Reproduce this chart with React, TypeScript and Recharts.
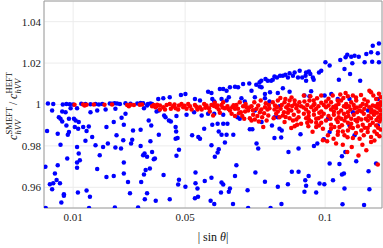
import React from 'react';
import { ScatterChart, Scatter, XAxis, YAxis, CartesianGrid, ReferenceArea } from 'recharts';

const xTicks = [0.01, 0.05, 0.1];
const yTicks = [0.96, 0.98, 1, 1.02, 1.04];
const xDomain: [number, number] = [-0.0004, 0.1203];
const yDomain: [number, number] = [0.95, 1.05];

const blueLeft: [number, number][] = [
  [0.0010,1.0005],[0.0029,1.0002],[0.0063,1.0000],[0.0076,1.0003],[0.0088,1.0001],[0.0100,1.0000],[0.0129,1.0004],[0.0144,1.0002],[0.0162,1.0001],[0.0180,1.0003],[0.0192,1.0000],[0.0204,1.0002],[0.0231,1.0005],[0.0239,1.0004],[0.0248,1.0006],[0.0257,1.0005],[0.0267,1.0003],[0.0287,1.0006],[0.0305,1.0004],[0.0329,1.0005],[0.0341,1.0007],[0.0350,1.0006],[0.0367,1.0003],[0.0376,1.0005],
  [0.0025,0.9971],[0.0061,0.9966],[0.0073,0.9963],[0.0091,0.9982],[0.0114,0.9982],[0.0162,0.9963],[0.0186,0.9971],[0.0216,0.9976],[0.0251,0.9979],[0.0287,0.9955],[0.0353,0.9982],[0.0364,0.9995],[0.0382,1.0003],
  [0.0049,0.9939],[0.0055,0.9931],[0.0061,0.9918],[0.0085,0.9931],[0.0103,0.9931],[0.0109,0.9923],[0.0120,0.9915],[0.0273,0.9936],[0.0370,0.9923],
  [0.0007,0.9872],[0.0045,0.9859],[0.0076,0.9899],[0.0085,0.9867],[0.0081,0.9854],[0.0106,0.9891],[0.0118,0.9883],[0.0136,0.9891],[0.0156,0.9894],[0.0148,0.9872],[0.0219,0.9891],[0.0245,0.9915],[0.0281,0.9902],[0.0314,0.9875],[0.0341,0.9878],[0.0379,0.9899],[0.0406,0.9854],
  [0.0055,0.9806],[0.0114,0.9795],[0.0144,0.9825],[0.0168,0.9843],[0.0180,0.9803],[0.0207,0.9795],[0.0224,0.9811],[0.0255,0.9851],[0.0251,0.9792],[0.0271,0.9787],[0.0279,0.9827],[0.0311,0.9830],[0.0307,0.9811],[0.0341,0.9800],[0.0376,0.9822],
  [0.0079,0.9739],[0.0120,0.9763],[0.0124,0.9731],[0.0114,0.9720],[0.0195,0.9755],[0.0281,0.9720],[0.0350,0.9755],[0.0355,0.9763],[0.0382,0.9771],[0.0364,0.9747],[0.0388,0.9736],[0.0001,0.9699],[0.0045,0.9707],[0.0114,0.9694],[0.0186,0.9688],[0.0245,0.9655],[0.0219,0.9650],[0.0281,0.9667],[0.0374,0.9691],[0.0359,0.9683],[0.0353,0.9662],
  [0.0035,0.9667],[0.0041,0.9635],[0.0017,0.9615],[0.0029,0.9619],[0.0053,0.9619],[0.0025,0.9591],[0.0067,0.9566],[0.0117,0.9575],[0.0148,0.9585],[0.0296,0.9626],[0.0343,0.9626],[0.0303,0.9571],[0.0364,0.9571],
];

const blueMid: [number, number][] = [
  [0.0422,1.0030],[0.0445,1.0035],[0.0485,1.0046],[0.0501,1.0051],[0.0582,1.0062],[0.0594,1.0056],[0.0624,1.0075],[0.0636,1.0075],[0.0648,1.0067],[0.0660,1.0083],[0.0678,1.0086],[0.0689,1.0083],[0.0737,1.0067],[0.0773,1.0083],[0.0785,1.0051],[0.0803,1.0059],[0.0404,1.0027],[0.0535,1.0027],[0.0553,1.0019],[0.0597,1.0027],[0.0604,1.0014],[0.0630,1.0027],[0.0648,1.0019],[0.0656,1.0035],[0.0701,1.0030],[0.0713,1.0014],[0.0749,1.0035],[0.0785,1.0030],
  [0.0398,0.9966],[0.0406,0.9971],[0.0425,0.9947],[0.0430,0.9939],[0.0442,0.9923],[0.0449,0.9918],[0.0469,0.9944],[0.0505,0.9950],[0.0532,0.9963],[0.0559,0.9947],[0.0582,0.9955],[0.0604,0.9955],[0.0636,0.9950],[0.0687,0.9939],[0.0695,0.9931],[0.0749,0.9971],[0.0773,0.9915],
  [0.0466,0.9891],[0.0468,0.9870],[0.0466,0.9835],[0.0473,0.9838],[0.0525,0.9851],[0.0547,0.9843],[0.0553,0.9835],[0.0568,0.9883],[0.0597,0.9902],[0.0616,0.9907],[0.0636,0.9907],[0.0651,0.9907],[0.0620,0.9870],[0.0630,0.9854],[0.0648,0.9854],[0.0672,0.9854],[0.0731,0.9880],[0.0740,0.9880],
  [0.0642,0.9816],[0.0594,0.9803],[0.0620,0.9784],[0.0616,0.9768],[0.0755,0.9811],[0.0761,0.9787],[0.0478,0.9782],[0.0469,0.9752],[0.0392,0.9739],[0.0606,0.9747],[0.0683,0.9707],[0.0678,0.9655],[0.0751,0.9671],[0.0537,0.9671],[0.0423,0.9659],[0.0478,0.9636],[0.0475,0.9614],[0.0501,0.9603],[0.0570,0.9630],[0.0594,0.9646],[0.0537,0.9619],[0.0544,0.9594],[0.0630,0.9623],[0.0636,0.9614],[0.0660,0.9594],[0.0628,0.9575],[0.0656,0.9578],[0.0723,0.9586],[0.0785,0.9627],
];

const blueRight: [number, number][] = [
  [0.0831,1.0056],[0.0849,1.0078],[0.0873,1.0062],[0.0926,1.0043],[0.0944,1.0040],[0.0998,1.0043],[0.1022,1.0051],[0.1045,1.0027],[0.1087,1.0027],[0.1188,1.0027],[0.0801,1.0014],
  [0.0819,0.9939],[0.0831,0.9939],[0.0810,0.9899],[0.0837,0.9883],[0.0845,0.9875],[0.0819,0.9838],[0.0843,0.9840],[0.0912,0.9856],[0.1016,0.9867],[0.1105,0.9851],[0.0995,0.9832],[0.0972,0.9811],[0.0960,0.9800],[0.0905,0.9787],[0.0869,0.9771],[0.1072,0.9771],[0.1060,0.9750],[0.1111,0.9726],[0.1016,0.9715],[0.1051,0.9712],[0.1182,0.9715],[0.1155,0.9678],[0.1067,0.9667],[0.1060,0.9662],[0.0881,0.9675],[0.0905,0.9675],[0.0941,0.9655],[0.0929,0.9634],[0.0932,0.9607],[0.0867,0.9615],[0.0831,0.9603],[0.0980,0.9618],[0.0997,0.9615],[0.1028,0.9634],[0.1069,0.9594],[0.0926,0.9578],[0.0968,0.9575],[0.1158,0.9590],
  [0.0837,0.9992],[0.1099,0.9963],[0.1153,0.9971],[0.1010,0.9931],[0.1188,0.9899],[0.1087,0.9899],
];

const blueUpper: [number, number][] = [
  [0.1192,1.0295],[0.1170,1.0284],[0.1164,1.0252],[0.1188,1.0247],[0.1147,1.0244],[0.1192,1.0204],[0.1168,1.0207],[0.1141,1.0204],[0.1120,1.0231],[0.1105,1.0236],[0.1093,1.0231],[0.1097,1.0199],[0.1079,1.0240],[0.1073,1.0228],[0.1054,1.0215],[0.1069,1.0171],[0.1089,1.0147],[0.1125,1.0115],[0.1049,1.0119],[0.1016,1.0188],[0.1001,1.0204],[0.0986,1.0163],[0.0978,1.0155],[0.0956,1.0131],[0.0959,1.0119],[0.0947,1.0147],[0.0942,1.0160],[0.0932,1.0155],[0.0930,1.0139],[0.0932,1.0115],[0.0918,1.0131],[0.0909,1.0163],[0.0891,1.0155],[0.0903,1.0131],[0.0885,1.0139],[0.0873,1.0151],[0.0867,1.0131],[0.0858,1.0144],[0.0849,1.0139],[0.0839,1.0139],[0.0828,1.0131],[0.0819,1.0135],[0.0813,1.0119],[0.0807,1.0115],[0.0795,1.0115],[0.0787,1.0123],[0.0772,1.0115],[0.0766,1.0107],[0.0754,1.0096],[0.0766,1.0087],[0.0950,1.0064],[0.0729,1.0102],[0.0707,1.0099],
];

const blueBottom: [number, number][] = [
  [0.0002,0.9500],[0.0067,0.9559],[0.0058,0.9526],[0.0160,0.9554],[0.0157,0.9500],[0.0249,0.9503],[0.0332,0.9503],[0.0356,0.9542],[0.0395,0.9535],[0.0445,0.9542],[0.0535,0.9547],[0.0546,0.9554],[0.0591,0.9535],[0.0604,0.9519],[0.0671,0.9519],[0.0725,0.9500],[0.0805,0.9500],[0.0844,0.9519],[0.1062,0.9518],[0.1139,0.9514],
];

const redLeft: [number, number][] = [
  [0.0105,0.9999],[0.0136,1.0000],[0.0141,0.9995],[0.0148,0.9999],[0.0174,1.0000],[0.0212,0.9999],[0.0239,1.0000],[0.0293,0.9998],[0.0299,0.9992],[0.0305,0.9999],[0.0317,0.9997],[0.0338,0.9999],[0.0346,1.0000],[0.0382,0.9992],[0.0388,0.9998],[0.0394,0.9987],[0.0400,0.9999],
];

const redMid: [number, number][] = [
  [0.0398,0.9992],[0.0410,0.9995],[0.0422,0.9987],[0.0434,0.9998],[0.0445,1.0003],[0.0457,0.9992],[0.0466,0.9982],[0.0478,0.9995],[0.0493,0.9987],[0.0505,0.9979],[0.0517,0.9992],[0.0535,0.9998],[0.0544,0.9976],[0.0553,0.9987],[0.0568,1.0003],[0.0576,0.9995],[0.0585,0.9982],[0.0594,0.9998],[0.0600,0.9947],[0.0606,1.0008],[0.0612,0.9987],[0.0620,0.9976],[0.0630,0.9998],[0.0642,0.9982],[0.0651,0.9992],[0.0660,0.9971],[0.0668,0.9987],[0.0678,0.9944],[0.0683,0.9998],[0.0689,0.9979],[0.0699,0.9963],[0.0707,0.9992],[0.0716,1.0003],[0.0725,0.9971],[0.0731,0.9934],[0.0737,0.9992],[0.0743,0.9950],[0.0749,0.9928],[0.0755,0.9979],[0.0761,0.9995],[0.0767,0.9963],[0.0775,0.9939],[0.0779,0.9891],[0.0785,0.9987],[0.0794,0.9976],[0.0799,0.9998],
  [0.0410,0.9976],[0.0449,0.9979],[0.0487,1.0003],[0.0523,0.9976],[0.0559,0.9976],[0.0624,0.9960],[0.0666,0.9955],[0.0704,0.9944],[0.0719,0.9987],[0.0770,1.0019],[0.0747,1.0011],[0.0797,0.9947],[0.0695,1.0011],[0.0636,1.0011],[0.0616,0.9995],[0.0588,0.9966],[0.0511,1.0003],[0.0475,0.9976],[0.0428,0.9976],[0.0678,0.9979],[0.0711,0.9931],[0.0763,0.9918],[0.0737,0.9923],[0.0791,0.9923],
  [0.0462,1.0000],[0.0498,0.9994],[0.0540,0.9989],[0.0572,0.9984],[0.0603,0.9993],[0.0634,0.9986],[0.0655,0.9978],[0.0673,0.9996],[0.0692,0.9958],[0.0714,0.9966],[0.0729,0.9985],[0.0742,0.9972],[0.0758,0.9944],[0.0772,0.9976],[0.0782,0.9958],[0.0788,1.0006],
];

const redRight: [number, number][] = [
  [0.0924,1.0043],[0.0947,1.0040],[0.0971,1.0030],[0.1027,1.0043],[0.1045,1.0019],[0.1081,1.0040],[0.1128,1.0046],[0.1158,1.0067],[0.1182,1.0027],[0.1198,1.0035],
  [0.0813,1.0011],[0.0831,1.0019],[0.0855,1.0011],[0.0873,1.0019],[0.0891,1.0003],[0.0908,1.0011],[0.0926,1.0014],[0.0944,1.0019],[0.0962,1.0003],[0.0986,1.0008],[0.1003,1.0014],[0.1021,1.0011],[0.1039,0.9995],[0.1057,1.0019],[0.1075,1.0003],[0.1093,1.0011],[0.1111,1.0019],[0.1134,1.0003],[0.1152,1.0014],[0.1170,0.9995],[0.1188,1.0003],[0.1198,1.0011],
  [0.0801,0.9982],[0.0819,0.9976],[0.0841,0.9979],[0.0861,0.9987],[0.0879,0.9971],[0.0897,0.9982],[0.0914,0.9992],[0.0932,0.9976],[0.0950,0.9987],[0.0968,0.9979],[0.0986,0.9966],[0.1003,0.9987],[0.1021,0.9976],[0.1039,0.9982],[0.1057,0.9971],[0.1075,0.9987],[0.1090,0.9976],[0.1105,0.9982],[0.1122,0.9971],[0.1140,0.9979],[0.1158,0.9987],[0.1176,0.9966],[0.1194,0.9979],[0.1198,0.9971],
  [0.0825,0.9955],[0.0849,0.9947],[0.0867,0.9960],[0.0888,0.9950],[0.0905,0.9939],[0.0924,0.9955],[0.0941,0.9944],[0.0960,0.9950],[0.0976,0.9934],[0.0995,0.9955],[0.1012,0.9944],[0.1031,0.9950],[0.1048,0.9939],[0.1067,0.9955],[0.1083,0.9944],[0.1102,0.9950],[0.1119,0.9934],[0.1138,0.9955],[0.1155,0.9944],[0.1174,0.9950],[0.1190,0.9939],[0.1198,0.9950],
  [0.0855,0.9915],[0.0885,0.9923],[0.0914,0.9907],[0.0950,0.9918],[0.0986,0.9912],[0.1003,0.9923],[0.1021,0.9902],[0.1045,0.9915],[0.1069,0.9923],[0.1093,0.9907],[0.1114,0.9918],[0.1134,0.9902],[0.1152,0.9923],[0.1170,0.9912],[0.1194,0.9918],
  [0.0879,0.9886],[0.0891,0.9895],[0.0968,0.9891],[0.0992,0.9883],[0.1033,0.9891],[0.1063,0.9870],[0.1081,0.9875],[0.1099,0.9886],[0.1129,0.9875],[0.1152,0.9886],[0.1176,0.9870],[0.1198,0.9879],
  [0.0992,0.9827],[0.1010,0.9851],[0.1045,0.9854],[0.1069,0.9851],[0.1099,0.9838],[0.1123,0.9835],[0.1164,0.9843],[0.1194,0.9847],
  [0.1007,0.9822],[0.1039,0.9811],[0.1063,0.9806],[0.1079,0.9770],[0.1119,0.9754],[0.1147,0.9779],[0.1164,0.9819],[0.1188,0.9710],
  [0.0821,0.9995],[0.0845,0.9998],[0.0869,0.9998],[0.0900,0.9995],[0.0936,0.9998],[0.0976,0.9992],[0.0995,0.9998],[0.1012,0.9995],[0.1048,1.0003],[0.1067,0.9992],[0.1102,0.9998],[0.1126,0.9992],[0.1147,0.9998],[0.1179,0.9992],[0.1198,0.9998],
  [0.0831,0.9966],[0.0853,0.9963],[0.0869,0.9976],[0.0905,0.9966],[0.0941,0.9963],[0.0960,0.9971],[0.0979,0.9960],[0.1031,0.9966],[0.1048,0.9960],[0.1081,0.9963],[0.1114,0.9963],[0.1131,0.9966],[0.1164,0.9963],[0.1185,0.9960],
  [0.0816,0.9934],[0.0837,0.9939],[0.0873,0.9934],[0.0932,0.9934],[0.0968,0.9931],[0.1019,0.9931],[0.1057,0.9931],[0.1093,0.9931],[0.1129,0.9928],[0.1164,0.9934],[0.1198,0.9931],
  [0.0936,0.9912],[0.0968,0.9912],[0.1081,0.9912],[0.1182,0.9899],[0.1021,0.9883],[0.1117,0.9895],[0.1051,0.9891],[0.1152,0.9867],
  [0.1164,1.0059],[0.1054,1.0048],[0.1073,1.0055],[0.0986,1.0043],[0.1099,1.0043],[0.0858,1.0027],[0.0891,1.0019],
  [0.0840,1.0031],[0.0880,1.0034],[0.0959,1.0019],[0.1012,1.0028],[0.1065,1.0031],[0.1110,1.0034],[0.1140,1.0024],[0.1172,1.0043],[0.1192,1.0052],
  [0.0828,0.9988],[0.0882,0.9993],[0.0923,0.9985],[0.0958,0.9996],[0.1029,0.9988],[0.1085,0.9991],[0.1113,0.9985],[0.1165,0.9976],[0.1186,0.9985],
  [0.0859,0.9940],[0.0897,0.9928],[0.0943,0.9925],[0.0987,0.9942],[0.1040,0.9927],[0.1074,0.9938],[0.1108,0.9925],[0.1145,0.9931],[0.1183,0.9925],
  [0.0900,0.9902],[0.0940,0.9895],[0.0978,0.9899],[0.1060,0.9900],[0.1090,0.9890],[0.1141,0.9888],[0.1189,0.9888],[0.1160,0.9901],
  [0.0955,0.9868],[0.1046,0.9870],[0.1110,0.9862],[0.1138,0.9852],[0.1185,0.9858],[0.1080,0.9842],[0.1030,0.9835],[0.1176,0.9826],[0.1133,0.9805],[0.1095,0.9795],
];

const toPoints = (arr: [number, number][]) => arr.map(([x, y]) => ({ x, y }));

const blueData = toPoints([...blueLeft, ...blueMid, ...blueRight, ...blueUpper, ...blueBottom]);
const redData = toPoints([...redLeft, ...redMid, ...redRight]);

const makeDot = (color: string) => (props: any) => (
  <circle cx={props.cx} cy={props.cy} r={2.25} fill={color} />
);

const SERIF = "'Liberation Serif', 'Times New Roman', serif";

const YLabel = () => (
  <text transform="translate(17, 140) rotate(-90)" fontFamily={SERIF} fill="#111">
    <tspan x={0} y={0} fontSize={12} fontStyle="italic">c</tspan>
    <tspan x={5.6} y={-5} fontSize={8.5}>SMEFT</tspan>
    <tspan x={5.6} y={3.5} fontSize={8.5} fontStyle="italic">hVV</tspan>
    <tspan x={35} y={0} fontSize={12}>/</tspan>
    <tspan x={41} y={0} fontSize={12} fontStyle="italic">c</tspan>
    <tspan x={46.6} y={-5} fontSize={8.5}>HEFT</tspan>
    <tspan x={46.6} y={3.5} fontSize={8.5} fontStyle="italic">hVV</tspan>
  </text>
);

const XLabel = () => (
  <text x={213} y={241} textAnchor="middle" fontFamily={SERIF} fontSize={12} fill="#111">
    | sin <tspan fontStyle="italic">θ</tspan>|
  </text>
);

export default function App() {
  return (
    <div style={{ position: 'absolute', left: 0, top: 0 }}>
      <ScatterChart width={383} height={248} margin={{ top: 1, right: 1, bottom: 0, left: 0 }}>
        <CartesianGrid stroke="#ececec" />
        <XAxis
          type="number"
          dataKey="x"
          domain={xDomain}
          ticks={xTicks}
          allowDataOverflow
          height={40}
          tickSize={0}
          tickMargin={5}
          axisLine={false}
          tickLine={false}
          tick={{ fontSize: 11, fontFamily: SERIF, fill: '#222' }}
          label={() => <XLabel />}
        />
        <YAxis
          type="number"
          dataKey="y"
          domain={yDomain}
          ticks={yTicks}
          allowDataOverflow
          width={44}
          tickSize={0}
          tickMargin={3}
          axisLine={false}
          tickLine={false}
          tick={{ fontSize: 11, fontFamily: SERIF, fill: '#222' }}
          label={() => <YLabel />}
        />
        <Scatter data={blueData} fill="#0000ff" shape={makeDot('#0000ff')} isAnimationActive={false} />
        <Scatter data={redData} fill="#ff0000" shape={makeDot('#ff0000')} isAnimationActive={false} />
        <ReferenceArea x1={xDomain[0]} x2={xDomain[1]} y1={yDomain[0]} y2={yDomain[1]} fill="none" stroke="#9c9c9c" strokeWidth={1} ifOverflow="visible" />
      </ScatterChart>
    </div>
  );
}
